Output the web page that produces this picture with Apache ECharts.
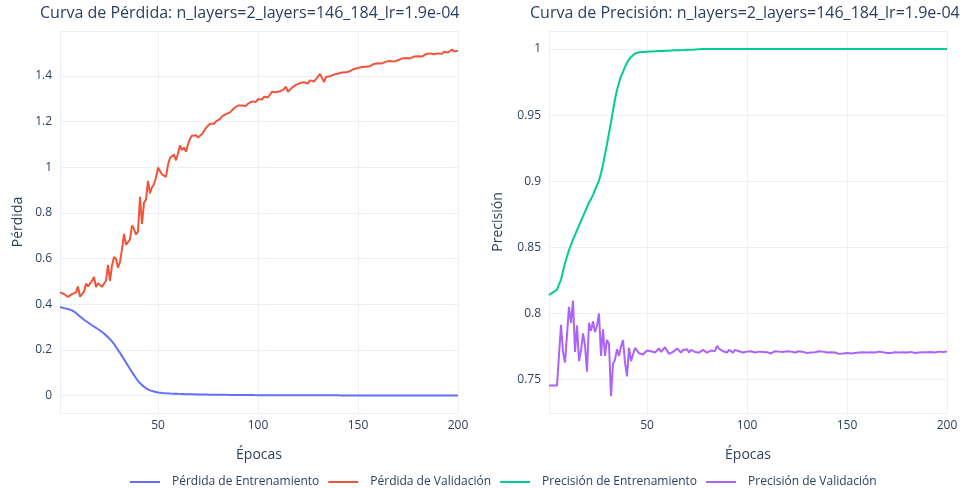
<!DOCTYPE html>
<html>
<head>
<meta charset="utf-8">
<script src="https://cdn.jsdelivr.net/npm/echarts@6/dist/echarts.min.js"></script>
<style>html,body{margin:0;padding:0;background:#fff;}#c{width:976px;height:488px;}</style>
</head>
<body>
<div id="c"></div>
<script>
const epochs = Array.from({length: 200}, (_, i) => i + 1);

const lossTitle = "Curva de Pérdida: n_layers=2_layers=146_184_lr=1.9e-04";
const accTitle = "Curva de Precisión: n_layers=2_layers=146_184_lr=1.9e-04";
const seriesNames = ["Pérdida de Entrenamiento", "Pérdida de Validación", "Precisión de Entrenamiento", "Precisión de Validación"];
const xTicks = [50, 100, 150, 200];

const trainLoss = [
0.388,0.385,0.383,0.381,0.379,0.376,0.373,0.369,0.362,0.354,
0.346,0.339,0.332,0.326,0.320,0.314,0.308,0.302,0.297,0.291,
0.285,0.279,0.272,0.264,0.256,0.247,0.237,0.226,0.213,0.200,
0.187,0.173,0.159,0.145,0.131,0.117,0.103,0.090,0.077,0.065,
0.055,0.046,0.038,0.032,0.027,0.023,0.020,0.018,0.016,0.014,
0.013,0.012,0.011,0.0105,0.010,0.0095,0.009,0.0086,0.0082,0.0078,
0.0075,0.0072,0.0069,0.0066,0.0063,0.0060,0.0058,0.0056,0.0054,0.0052,
0.0050,0.0048,0.0047,0.0045,0.0044,0.0042,0.0041,0.0040,0.0039,0.0038,
0.0037,0.0036,0.0035,0.0034,0.0033,0.0032,0.0031,0.0030,0.0029,0.0029,
0.0028,0.0027,0.0026,0.0026,0.0025,0.0025,0.0024,0.0023,0.0023,0.0022,
0.0022,0.0021,0.0021,0.0020,0.0020,0.0019,0.0019,0.0019,0.0018,0.0018,
0.0018,0.0017,0.0017,0.0017,0.0016,0.0016,0.0016,0.0016,0.0015,0.0015,
0.0015,0.0015,0.0014,0.0014,0.0014,0.0014,0.0014,0.0013,0.0013,0.0013,
0.0013,0.0013,0.0013,0.0012,0.0012,0.0012,0.0012,0.0012,0.0012,0.0012,
0.0011,0.0011,0.0011,0.0011,0.0011,0.0011,0.0011,0.0010,0.0010,0.0010,
0.0010,0.0010,0.0010,0.0010,0.0010,0.0009,0.0009,0.0009,0.0009,0.0009,
0.0009,0.0009,0.0009,0.0009,0.0008,0.0008,0.0008,0.0008,0.0008,0.0008,
0.0008,0.0008,0.0008,0.0008,0.0008,0.0007,0.0007,0.0007,0.0007,0.0007,
0.0007,0.0007,0.0007,0.0007,0.0007,0.0007,0.0007,0.0006,0.0006,0.0006,
0.0006,0.0006,0.0006,0.0006,0.0006,0.0006,0.0006,0.0006,0.0006,0.0006
];

const valLoss = [
0.452,0.447,0.445,0.438,0.432,0.436,0.444,0.437,0.452,0.478,
0.433,0.425,0.455,0.490,0.478,0.486,0.502,0.519,0.475,0.492,
0.498,0.476,0.490,0.503,0.572,0.502,0.570,0.607,0.598,0.560,
0.585,0.640,0.708,0.660,0.672,0.684,0.745,0.730,0.705,0.718,
0.870,0.752,0.845,0.858,0.940,0.885,0.912,0.925,0.955,0.998,
0.998,0.968,0.965,0.958,1.010,1.040,1.035,1.055,1.030,1.060,
1.095,1.075,1.085,1.068,1.100,1.125,1.138,1.132,1.140,1.130,
1.128,1.145,1.158,1.172,1.180,1.190,1.196,1.190,1.200,1.195,
1.210,1.222,1.215,1.232,1.228,1.240,1.248,1.258,1.262,1.270,
1.274,1.270,1.265,1.268,1.278,1.275,1.288,1.290,1.285,1.298,
1.302,1.296,1.308,1.312,1.305,1.318,1.330,1.322,1.328,1.335,
1.332,1.338,1.342,1.352,1.330,1.338,1.348,1.352,1.360,1.355,
1.368,1.362,1.372,1.375,1.366,1.380,1.384,1.375,1.385,1.392,
1.408,1.390,1.372,1.395,1.400,1.398,1.392,1.405,1.402,1.410,
1.408,1.414,1.418,1.415,1.422,1.420,1.426,1.430,1.428,1.434,
1.440,1.438,1.442,1.440,1.445,1.442,1.448,1.452,1.446,1.455,
1.458,1.454,1.460,1.462,1.455,1.465,1.468,1.462,1.470,1.468,
1.472,1.476,1.470,1.478,1.482,1.476,1.480,1.484,1.478,1.486,
1.490,1.484,1.488,1.495,1.490,1.498,1.500,1.494,1.492,1.498,
1.502,1.496,1.505,1.508,1.502,1.510,1.515,1.506,1.514,1.510
];

const trainAcc = [
0.8140,0.8150,0.8160,0.8165,0.8180,0.8220,0.8255,0.8320,0.8380,0.8430,
0.8480,0.8520,0.8560,0.8595,0.8630,0.8665,0.8700,0.8735,0.8770,0.8805,
0.8840,0.8865,0.8895,0.8935,0.8970,0.9005,0.9060,0.9125,0.9205,0.9280,
0.9365,0.9445,0.9535,0.9620,0.9690,0.9745,0.9795,0.9825,0.9865,0.9895,
0.9920,0.9940,0.9955,0.9965,0.9972,0.9975,0.9976,0.9977,0.9978,0.9979,
0.9980,0.9981,0.9982,0.9982,0.9983,0.9984,0.9985,0.9985,0.9986,0.9987,
0.9988,0.9988,0.9989,0.9990,0.9990,0.9991,0.9992,0.9992,0.9993,0.9994,
0.9994,0.9995,0.9996,0.9996,0.9997,0.9998,0.9999,1.0000,1.0000,1.0000,
1.0000,1.0000,1.0000,1.0000,1.0000,1.0000,1.0000,1.0000,1.0000,1.0000,
1.0000,1.0000,1.0000,1.0000,1.0000,1.0000,1.0000,1.0000,1.0000,1.0000,
1.0000,1.0000,1.0000,1.0000,1.0000,1.0000,1.0000,1.0000,1.0000,1.0000,
1.0000,1.0000,1.0000,1.0000,1.0000,1.0000,1.0000,1.0000,1.0000,1.0000,
1.0000,1.0000,1.0000,1.0000,1.0000,1.0000,1.0000,1.0000,1.0000,1.0000,
1.0000,1.0000,1.0000,1.0000,1.0000,1.0000,1.0000,1.0000,1.0000,1.0000,
1.0000,1.0000,1.0000,1.0000,1.0000,1.0000,1.0000,1.0000,1.0000,1.0000,
1.0000,1.0000,1.0000,1.0000,1.0000,1.0000,1.0000,1.0000,1.0000,1.0000,
1.0000,1.0000,1.0000,1.0000,1.0000,1.0000,1.0000,1.0000,1.0000,1.0000,
1.0000,1.0000,1.0000,1.0000,1.0000,1.0000,1.0000,1.0000,1.0000,1.0000,
1.0000,1.0000,1.0000,1.0000,1.0000,1.0000,1.0000,1.0000,1.0000,1.0000,
1.0000,1.0000,1.0000,1.0000,1.0000,1.0000,1.0000,1.0000,1.0000,1.0000
];

const valAcc = [
0.7455,0.7455,0.7455,0.7455,0.7455,0.7465,0.7915,0.7710,0.7630,0.7620,
0.8050,0.7930,0.8097,0.7710,0.7910,0.7640,0.7720,0.7850,0.7760,0.7560,
0.7930,0.7870,0.7940,0.7860,0.7910,0.8000,0.7680,0.7880,0.7680,0.7800,
0.7770,0.7375,0.7620,0.7650,0.7730,0.7680,0.7750,0.7800,0.7630,0.7525,
0.7740,0.7640,0.7690,0.7740,0.7720,0.7700,0.7710,0.7690,0.7685,0.7720,
0.7730,0.7715,0.7730,0.7705,0.7720,0.7735,0.7710,0.7725,0.7745,0.7720,
0.7695,0.7685,0.7710,0.7725,0.7735,0.7720,0.7705,0.7725,0.7715,0.7730,
0.7705,0.7725,0.7715,0.7710,0.7725,0.7705,0.7715,0.7725,0.7710,0.7705,
0.7715,0.7720,0.7705,0.7715,0.7755,0.7735,0.7725,0.7715,0.7725,0.7705,
0.7725,0.7715,0.7705,0.7725,0.7710,0.7715,0.7715,0.7705,0.7710,0.7712,
0.7708,0.7715,0.7712,0.7705,0.7718,0.7712,0.7722,0.7710,0.7715,0.7708,
0.7712,0.7698,0.7710,0.7715,0.7705,0.7712,0.7718,0.7710,0.7705,0.7715,
0.7708,0.7712,0.7718,0.7705,0.7712,0.7715,0.7705,0.7710,0.7718,0.7702,
0.7712,0.7705,0.7715,0.7708,0.7710,0.7715,0.7705,0.7712,0.7720,0.7705,
0.7712,0.7708,0.7712,0.7705,0.7715,0.7695,0.7702,0.7698,0.7705,0.7702,
0.7708,0.7698,0.7705,0.7702,0.7710,0.7705,0.7712,0.7708,0.7710,0.7705,
0.7712,0.7708,0.7715,0.7705,0.7710,0.7712,0.7705,0.7708,0.7712,0.7702,
0.7708,0.7702,0.7705,0.7708,0.7710,0.7705,0.7712,0.7708,0.7712,0.7705,
0.7715,0.7710,0.7712,0.7702,0.7710,0.7705,0.7712,0.7708,0.7698,0.7708,
0.7705,0.7710,0.7712,0.7705,0.7708,0.7712,0.7702,0.7710,0.7715,0.7712
];

const colors = ["#636efa", "#EF553B", "#00cc96", "#ab63fa"];
const textColor = "#2a3f5f";
const gridColor = "#ebf0f8";
const font = "Open Sans";

function pairs(ys) { return epochs.map((e, i) => [e, ys[i]]); }

function xAxisDef(gridIndex) {
  return {
    type: "value", gridIndex, min: 1, max: 200,
    splitNumber: 4,
    name: "Épocas", nameLocation: "middle", nameGap: 35,
    nameTextStyle: { color: textColor, fontSize: 14, fontFamily: font },
    axisLine: { show: false }, axisTick: { show: false },
    axisLabel: { color: textColor, fontSize: 12, fontFamily: font, showMinLabel: false, margin: 7,
      formatter: v => xTicks.includes(v) ? String(v) : "" },
    splitLine: { show: true, lineStyle: { color: gridColor, width: 1 } }
  };
}

const chart = echarts.init(document.getElementById("c"), null, { renderer: "canvas" });
chart.setOption({
  backgroundColor: "#fff",
  animation: false,
  color: colors,
  title: [
    { text: lossTitle, left: 35, top: 0, textStyle: { color: textColor, fontSize: 16, fontWeight: "normal", fontFamily: font } },
    { text: accTitle, left: 525, top: 0, textStyle: { color: textColor, fontSize: 16, fontWeight: "normal", fontFamily: font } }
  ],
  legend: {
    top: 471, left: 125, itemWidth: 30, itemHeight: 2, icon: "rect", itemGap: 9,
    textStyle: { color: textColor, fontSize: 12, fontFamily: font, padding: [0, 0, 0, 7] },
    data: seriesNames
  },
  grid: [
    { left: 60, width: 398, top: 31, height: 382 },
    { left: 549, width: 398, top: 31, height: 382 }
  ],
  xAxis: [xAxisDef(0), xAxisDef(1)],
  yAxis: [
    {
      type: "value", gridIndex: 0, min: -0.076, max: 1.596,
      splitNumber: 8,
      name: "Pérdida", nameLocation: "middle", nameGap: 35,
      nameTextStyle: { color: textColor, fontSize: 14, fontFamily: font },
      axisLine: { show: false }, axisTick: { show: false },
      axisLabel: { color: textColor, fontSize: 12, fontFamily: font, showMinLabel: false, showMaxLabel: false, margin: 8 },
      splitLine: { show: true, lineStyle: { color: gridColor, width: 1 } }
    },
    {
      type: "value", gridIndex: 1, min: 0.7248, max: 1.0136,
      splitNumber: 6,
      name: "Precisión", nameLocation: "middle", nameGap: 44,
      nameTextStyle: { color: textColor, fontSize: 14, fontFamily: font },
      axisLine: { show: false }, axisTick: { show: false },
      axisLabel: { color: textColor, fontSize: 12, fontFamily: font, showMinLabel: false, showMaxLabel: false, margin: 8,
        formatter: v => String(parseFloat(v.toFixed(2))) },
      splitLine: { show: true, lineStyle: { color: gridColor, width: 1 } }
    }
  ],
  series: [
    { name: seriesNames[0], type: "line", xAxisIndex: 0, yAxisIndex: 0, data: pairs(trainLoss), showSymbol: false, symbol: "none", lineStyle: { width: 2 } },
    { name: seriesNames[1], type: "line", xAxisIndex: 0, yAxisIndex: 0, data: pairs(valLoss), showSymbol: false, symbol: "none", lineStyle: { width: 2 } },
    { name: seriesNames[2], type: "line", xAxisIndex: 1, yAxisIndex: 1, data: pairs(trainAcc), showSymbol: false, symbol: "none", lineStyle: { width: 2 } },
    { name: seriesNames[3], type: "line", xAxisIndex: 1, yAxisIndex: 1, data: pairs(valAcc), showSymbol: false, symbol: "none", lineStyle: { width: 2 } }
  ]
});
</script>
</body>
</html>
